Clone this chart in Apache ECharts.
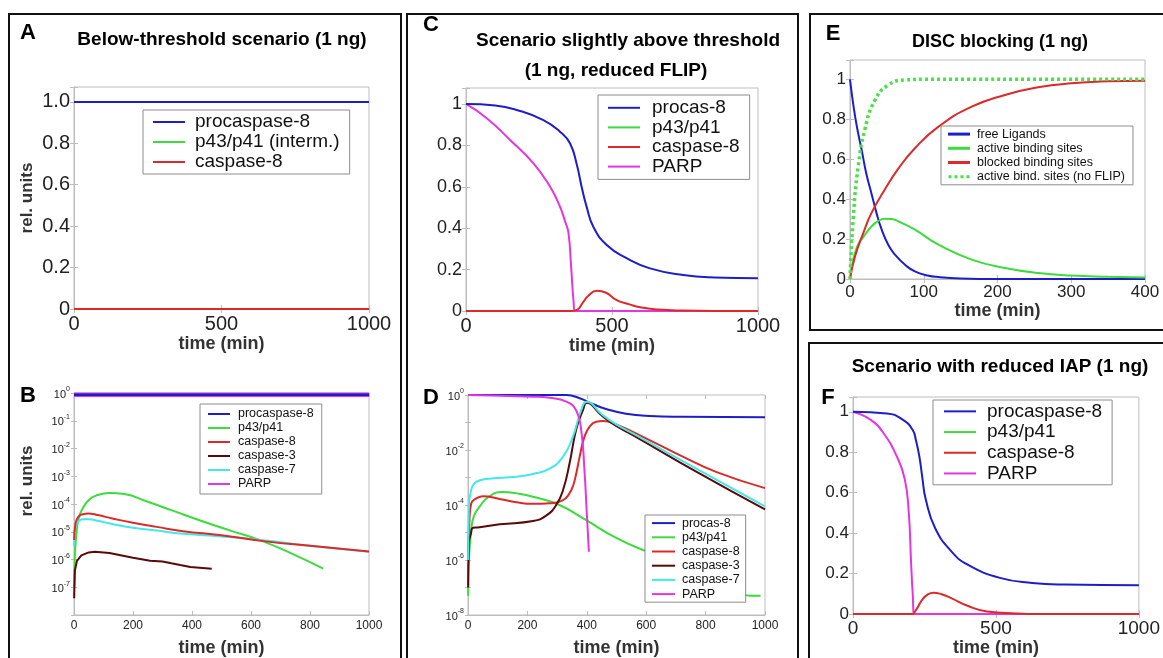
<!DOCTYPE html>
<html>
<head>
<meta charset="utf-8">
<script src="https://cdn.jsdelivr.net/npm/echarts@6/dist/echarts.min.js"></script>
<style>
html,body{margin:0;padding:0;background:#fff;}
#c{width:1163px;height:658px;}
</style>
</head>
<body>
<div id="c"></div>
<script>
// ---------------- DATA ----------------
// Panel A (linear, below threshold)
const A_procasp8 = [[0,1],[1000,1]];
const A_p43 = [[0,0],[1000,0]];
const A_casp8 = [[0,0],[1000,0]];

// Panel B (log scale)
const B_procasp8 = [[0,0.86],[1000,0.86]];
const B_parp = [[0,0.86],[1000,0.86]];
const B_p43 = [[0.5,1e-7],[3,1.5e-6],[8,8e-6],[15,2.8e-5],[25,5.6e-5],[50,1.4e-4],[80,2.1e-4],[120,2.5e-4],[170,2.3e-4],[250,1.2e-4],[330,6e-5],[430,2.5e-5],[530,1.1e-5],[630,5e-6],[740,1.6e-6],[845,4.7e-7]];
const B_casp8 = [[0.5,5e-6],[5,2e-5],[15,3.5e-5],[30,4.3e-5],[48,4.5e-5],[80,4e-5],[130,3e-5],[200,2.1e-5],[280,1.5e-5],[370,1.05e-5],[500,7.5e-6],[650,4.5e-6],[800,3.1e-6],[1000,1.95e-6]];
const B_casp3 = [[0.5,4e-8],[3,4e-7],[10,9e-7],[25,1.4e-6],[50,1.8e-6],[71,1.9e-6],[120,1.7e-6],[200,1.15e-6],[258,9e-7],[262,8.5e-7],[300,8.5e-7],[304,7.5e-7],[330,7.3e-7],[334,6.5e-7],[360,6.3e-7],[364,5.6e-7],[394,5.4e-7],[398,4.7e-7],[467,4.6e-7]];
const B_casp7 = [[0.5,3e-6],[5,1.5e-5],[15,2.4e-5],[30,2.8e-5],[50,2.8e-5],[80,2.5e-5],[130,1.9e-5],[200,1.4e-5],[280,1.1e-5],[370,8.5e-6],[500,6.8e-6],[600,5.5e-6],[700,4.2e-6],[800,3.1e-6],[1000,1.9e-6]];

// Panel C (linear, slightly above threshold)
const C_procas8 = [[0,1],[100,0.993],[174,0.971],[265,0.922],[322,0.866],[356,0.81],[379,0.71],[396,0.6],[413,0.504],[436,0.407],[482,0.319],[550,0.255],[630,0.206],[744,0.174],[850,0.162],[1000,0.158]];
const C_p43 = [[0,0],[1000,0]];
const C_casp8 = [[0,0],[360,0],[380,0.005],[400,0.04],[420,0.075],[448,0.098],[480,0.088],[516,0.053],[560,0.032],[596,0.018],[660,0.007],[744,0.002],[850,0],[1000,0]];
const C_parp = [[0,1],[72,0.93],[151,0.826],[231,0.713],[288,0.6],[320,0.51],[340,0.43],[351,0.376],[360,0.214],[368,0.053],[374,0],[1000,0]];

// Panel D (log scale)
const D_procas8 = [[0,1],[331,0.99],[376,0.76],[420,0.47],[465,0.31],[532,0.21],[611,0.174],[723,0.162],[1000,0.155]];
const D_p43 = [[0.5,5e-8],[3,1e-6],[11,1.26e-5],[20,4e-5],[39,8.7e-5],[70,2e-4],[118,3e-4],[160,2.7e-4],[219,2e-4],[308,1e-4],[398,2.8e-5],[488,7.4e-6],[589,2.3e-6],[700,9e-7],[800,2.5e-7],[900,8e-8],[950,5e-8],[985,5e-8]];
const D_casp8 = [[0.5,1e-6],[5,3e-5],[11,1.15e-4],[28,1.74e-4],[50,2.1e-4],[107,1.66e-4],[163,1.26e-4],[219,1.1e-4],[275,1.15e-4],[320,1.5e-4],[340,2.5e-4],[353,4.7e-4],[365,1.5e-3],[376,5.75e-3],[392,3e-2],[409,7e-2],[432,1.07e-1],[454,1.13e-1],[499,8.5e-2],[611,2.3e-2],[723,5.75e-3],[835,1.6e-3],[1000,4.1e-4]];
const D_casp3 = [[0.5,1e-7],[3,4e-6],[10,9.3e-6],[17,1.5e-5],[39,1.55e-5],[107,2e-5],[219,2.6e-5],[263,4.1e-5],[297,1e-4],[320,3.5e-4],[342,3.3e-3],[364,5.4e-2],[387,0.28],[400,0.52],[450,0.18],[499,0.075],[555,0.035],[779,1.4e-3],[1000,6.9e-5]];
const D_casp7 = [[0.5,1e-6],[3,1e-4],[8,2.5e-4],[16,5e-4],[28,7e-4],[62,8.9e-4],[163,1.07e-3],[219,1.35e-3],[275,2.1e-3],[320,5.75e-3],[353,3e-2],[381,0.28],[400,0.57],[450,0.2],[499,0.085],[555,0.04],[779,1.8e-3],[1000,9e-5]];
const D_parp = [[0,1],[219,0.87],[275,0.79],[331,0.575],[364,0.28],[381,0.054],[392,1.9e-3],[400,5e-5],[407,2e-6]];

// Panel E (DISC blocking)
const E_free = [[0,1],[5,0.86],[10,0.75],[15.8,0.647],[22,0.53],[29,0.43],[36,0.33],[43,0.247],[52,0.17],[61,0.122],[75,0.07],[88,0.038],[105,0.018],[120,0.01],[150,0.003],[200,0],[400,0]];
const E_active = [[0,0],[3,0.07],[6.8,0.13],[12,0.18],[18,0.21],[29,0.263],[38,0.29],[47,0.302],[56,0.3],[66,0.288],[88,0.247],[120,0.172],[165,0.097],[210,0.055],[255,0.03],[300,0.017],[350,0.011],[400,0.007]];
const E_blocked = [[0,0],[6.8,0.113],[18,0.23],[29,0.33],[47,0.447],[66,0.555],[88,0.655],[120,0.763],[165,0.863],[210,0.922],[255,0.96],[300,0.98],[350,0.99],[400,0.993]];
const E_noflip = [[0,0],[4.5,0.31],[11,0.56],[20,0.747],[34,0.897],[52,0.972],[75,0.997],[100,1],[400,1]];

// Panel F (reduced IAP)
const F_procas8 = [[0,1],[119,0.992],[175,0.96],[209,0.91],[220,0.86],[232,0.78],[243,0.67],[254,0.57],[288,0.423],[345,0.309],[401,0.244],[514,0.179],[627,0.154],[740,0.146],[1000,0.143]];
const F_p43 = [[0,0],[1000,0]];
const F_casp8 = [[0,0],[205,0],[220,0.02],[243,0.073],[262,0.098],[282,0.106],[310,0.098],[345,0.078],[401,0.041],[469,0.013],[571,0.003],[650,0],[1000,0]];
const F_parp = [[0,1],[62,0.96],[107,0.894],[153,0.78],[181,0.667],[195,0.504],[203,0.26],[209,0.098],[215,0],[1000,0]];

// tick settings
const xTicksLong = [0, 500, 1000];
const xTicksLog = [0, 200, 400, 600, 800, 1000];
const xTicksE = [0, 100, 200, 300, 400];

// ---------------- STYLE ----------------
const FONT = '"Liberation Sans", Arial, Helvetica, sans-serif';
const COL = {blue:'#1e1ec8', green:'#3ddc3d', red:'#dc2a2a', dred:'#5a0808', cyan:'#44e8e8', mag:'#e436e0'};
const GRAY = '#bdbdbd';

const grids = [
  {left:74, top:87, width:295, height:222},   // A
  {left:74, top:393, width:295, height:222},  // B
  {left:466, top:88, width:292, height:223},  // C
  {left:468, top:395, width:297, height:220}, // D
  {left:850, top:60, width:295, height:219},  // E
  {left:853, top:397, width:295, height:220}  // F
];

function supLabel(v){
  const e = Math.round(Math.log10(v));
  return '{b|10}{s|' + e + '}';
}
const supRich = {
  b:{fontSize:11, fontFamily:FONT, color:'#222', lineHeight:14, verticalAlign:'bottom'},
  s:{fontSize:7, fontFamily:FONT, color:'#222', lineHeight:14, verticalAlign:'top'}
};

function linFmt(dec){
  return function(v){
    if (v > 1.0001) return '';
    if (Math.abs(v) < 1e-9) return '0';
    if (Math.abs(v-1) < 1e-9) return dec ? '1.0' : '1';
    return v.toFixed(1);
  };
}
function xFmt(ticks){
  return function(v){
    for (const t of ticks) if (Math.abs(v - t) < 1e-6) return String(t);
    return '';
  };
}

function xAxisDef(gi, max, interval, fs, nameGap, ticks){
  return {
    type:'value', gridIndex:gi, min:0, max:max, interval:interval,
    name:'time (min)', nameLocation:'middle', nameGap:nameGap,
    nameTextStyle:{fontFamily:FONT, fontWeight:'bold', fontSize:18, color:'#333'},
    axisLine:{show:true, lineStyle:{color:GRAY}},
    axisTick:{show:true, inside:true, length:4, lineStyle:{color:GRAY}},
    axisLabel:{fontFamily:FONT, fontSize:fs, color:'#222', margin:5, formatter:xFmt(ticks),
      alignMinLabel:'center', alignMaxLabel:'center'},
    splitLine:{show:false}
  };
}
function xAxisTop(gi, max, interval){
  return {type:'value', gridIndex:gi, position:'top', min:0, max:max, interval:interval,
    axisLine:{show:false}, axisTick:{show:true, inside:true, length:4, lineStyle:{color:GRAY}},
    axisLabel:{show:false}, splitLine:{show:false}};
}
function yLin(gi, max, fs, dec){
  return {type:'value', gridIndex:gi, min:0, max:max, interval:0.2,
    axisLine:{show:true, lineStyle:{color:GRAY}},
    axisTick:{show:true, inside:true, length:4, lineStyle:{color:GRAY}},
    axisLabel:{fontFamily:FONT, fontSize:fs, color:'#222', margin:4, formatter:linFmt(dec)},
    splitLine:{show:false}};
}
function yLinRight(gi, max){
  return {type:'value', gridIndex:gi, position:'right', min:0, max:max, interval:0.2,
    axisLine:{show:false}, axisTick:{show:true, inside:true, length:4, lineStyle:{color:GRAY}},
    axisLabel:{show:false}, splitLine:{show:false}};
}
function yLog(gi, evenOnly, hideMin){
  return {type:'log', logBase:10, gridIndex:gi, min:1e-8, max:1,
    axisLine:{show:true, lineStyle:{color:GRAY}},
    axisTick:{show:true, inside:true, length:3, lineStyle:{color:GRAY}},
    axisLabel:{margin:4, rich:supRich, formatter:function(v){
      const e = Math.round(Math.log10(v));
      if (evenOnly && e % 2 !== 0) return '';
      if (hideMin && e === -8) return '';
      return supLabel(v);
    }},
    splitLine:{show:false}};
}
function yLogRight(gi){
  return {type:'log', logBase:10, gridIndex:gi, position:'right', min:1e-8, max:1,
    axisLine:{show:false}, axisTick:{show:true, inside:true, length:3, lineStyle:{color:GRAY}},
    axisLabel:{show:false}, splitLine:{show:false}};
}

const xAxes = [
  xAxisDef(0, 1000, 500, 20, 24, xTicksLong),
  xAxisDef(1, 1000, 200, 12, 24, xTicksLog),
  xAxisDef(2, 1000, 500, 20, 22, xTicksLong),
  xAxisDef(3, 1000, 200, 12, 24, xTicksLog),
  xAxisDef(4, 400, 100, 17, 23, xTicksE),
  xAxisDef(5, 1000, 500, 19, 21, xTicksLong),
  xAxisTop(0,1000,500), xAxisTop(1,1000,200), xAxisTop(2,1000,500),
  xAxisTop(3,1000,200), xAxisTop(4,400,100), xAxisTop(5,1000,500)
];
const yAxes = [
  yLin(0, 1.072, 20, true),
  yLog(1, false, true),
  yLin(2, 1.077, 18, false),
  yLog(3, true, false),
  yLin(4, 1.097, 17, false),
  yLin(5, 1.073, 17, false),
  yLinRight(0,1.072), yLogRight(1), yLinRight(2,1.077), yLogRight(3), yLinRight(4,1.097), yLinRight(5,1.073)
];
yAxes[0].name = 'rel. units'; yAxes[0].nameLocation = 'middle'; yAxes[0].nameGap = 38;
yAxes[0].nameTextStyle = {fontFamily:FONT, fontWeight:'bold', fontSize:17, color:'#333'};
yAxes[1].name = 'rel. units'; yAxes[1].nameLocation = 'middle'; yAxes[1].nameGap = 38;
yAxes[1].nameTextStyle = {fontFamily:FONT, fontWeight:'bold', fontSize:17, color:'#333', padding:[0,0,0,46]};

function ln(name, data, color, gi, extra){
  const s = {type:'line', name:name, data:data, xAxisIndex:gi, yAxisIndex:gi,
    symbol:'none', clip:false, smooth:0.5,
    lineStyle:{color:color, width:2}, itemStyle:{color:color}, emphasis:{disabled:true}};
  if (extra) Object.assign(s, extra);
  return s;
}

const series = [
  // A
  ln('p43/p41 (interm.)', A_p43, COL.green, 0),
  ln('caspase-8', A_casp8, COL.red, 0),
  ln('procaspase-8', A_procasp8, COL.blue, 0),
  // B
  ln('PARP', B_parp, COL.mag, 1, {lineStyle:{color:COL.mag, width:4.5}}),
  ln('procaspase-8', B_procasp8, COL.blue, 1, {lineStyle:{color:COL.blue, width:2.5}}),
  ln('p43/p41', B_p43, COL.green, 1),
  ln('caspase-7', B_casp7, COL.cyan, 1),
  ln('caspase-8', B_casp8, COL.red, 1),
  ln('caspase-3', B_casp3, COL.dred, 1, {smooth:false}),
  // C
  ln('p43/p41', C_p43, COL.green, 2),
  ln('PARP', C_parp, COL.mag, 2),
  ln('caspase-8', C_casp8, COL.red, 2),
  ln('procas-8', C_procas8, COL.blue, 2),
  // D
  ln('procas-8', D_procas8, COL.blue, 3),
  ln('p43/p41', D_p43, COL.green, 3),
  ln('caspase-8', D_casp8, COL.red, 3),
  ln('caspase-3', D_casp3, COL.dred, 3),
  ln('caspase-7', D_casp7, COL.cyan, 3),
  ln('PARP', D_parp, COL.mag, 3),
  // E
  ln('free Ligands', E_free, COL.blue, 4),
  ln('active binding sites', E_active, COL.green, 4),
  ln('blocked binding sites', E_blocked, COL.red, 4),
  ln('active bind. sites (no FLIP)', E_noflip, '#44e444', 4, {lineStyle:{color:'#44e444', width:3.5, type:[3,3]}}),
  // F
  ln('p43/p41', F_p43, COL.green, 5),
  ln('PARP', F_parp, COL.mag, 5),
  ln('caspase-8', F_casp8, COL.red, 5),
  ln('procaspase-8', F_procas8, COL.blue, 5)
];

function legendDef(left, top, names, fs, lh, iw, gap, pad){
  return {
    left:left, top:top, orient:'vertical', icon:'rect', itemWidth:iw, itemHeight:2,
    itemGap:0, padding:pad, borderColor:'#8c8c8c', borderWidth:1, backgroundColor:'#fff',
    selectedMode:false,
    textStyle:{fontFamily:FONT, fontSize:fs, lineHeight:lh, color:'#111', padding:[0,0,0,gap]},
    data:names
  };
}
const dotIcon = 'path://M0,0h3v3h-3z M6,0h3v3h-3z M12,0h3v3h-3z M18,0h3v3h-3z';
const legends = [
  legendDef(143, 110, ['procaspase-8','p43/p41 (interm.)','caspase-8'], 19, 20, 32, 5, [2,10,2,10]),
  legendDef(200, 404, ['procaspase-8','p43/p41','caspase-8','caspase-3','caspase-7','PARP'], 12.5, 14, 22, 3, [3,8,3,8]),
  legendDef(598, 95, ['procas-8','p43/p41','caspase-8','PARP'], 19, 19.6, 32, 7, [3,10,3,10]),
  legendDef(645, 515, ['procas-8','p43/p41','caspase-8','caspase-3','caspase-7','PARP'], 12.5, 14.2, 23, 2, [1,6,1,7]),
  legendDef(941, 126, ['free Ligands','active binding sites','blocked binding sites',
      {name:'active bind. sites (no FLIP)', icon:dotIcon}], 12.5, 14.2, 22, 2, [1,8,1,7]),
  legendDef(933, 400, ['procaspase-8','p43/p41','caspase-8','PARP'], 19, 20.7, 32, 6, [1,10,1,11])
];
legends[4].itemHeight = 3;

function txt(x, y, s, size){
  return {type:'text', x:x, y:y, z:10, silent:true,
    style:{text:s, font:'bold ' + size + 'px ' + FONT, fill:'#000', textAlign:'center', textVerticalAlign:'middle'}};
}
function frame(x, y, w, h){
  return {type:'rect', z:10, silent:true, shape:{x:x, y:y, width:w, height:h},
    style:{fill:'none', stroke:'#111', lineWidth:2}};
}

const graphic = [
  frame(9, 14, 392, 660),
  frame(407, 14, 391, 660),
  frame(810, 14, 370, 316),
  frame(809, 343, 370, 330),
  txt(28, 33, 'A', 22), txt(222, 40, 'Below-threshold scenario (1 ng)', 19),
  txt(28, 396, 'B', 22),
  txt(431, 25, 'C', 22), txt(628, 41, 'Scenario slightly above threshold', 19), txt(616, 71, '(1 ng, reduced FLIP)', 19),
  txt(431, 398, 'D', 22),
  txt(833, 34, 'E', 22), txt(1000, 42, 'DISC blocking (1 ng)', 18),
  txt(828, 398, 'F', 22), txt(1000, 367, 'Scenario with reduced IAP (1 ng)', 19)
];

const chart = echarts.init(document.getElementById('c'), null, {renderer:'canvas'});
chart.setOption({
  animation:false,
  backgroundColor:'#fff',
  grid: grids.map(g => Object.assign({show:true, borderColor:GRAY, borderWidth:1, backgroundColor:'#fff', containLabel:false}, g)),
  xAxis: xAxes,
  yAxis: yAxes,
  legend: legends,
  series: series,
  graphic: graphic
});
</script>
</body>
</html>
